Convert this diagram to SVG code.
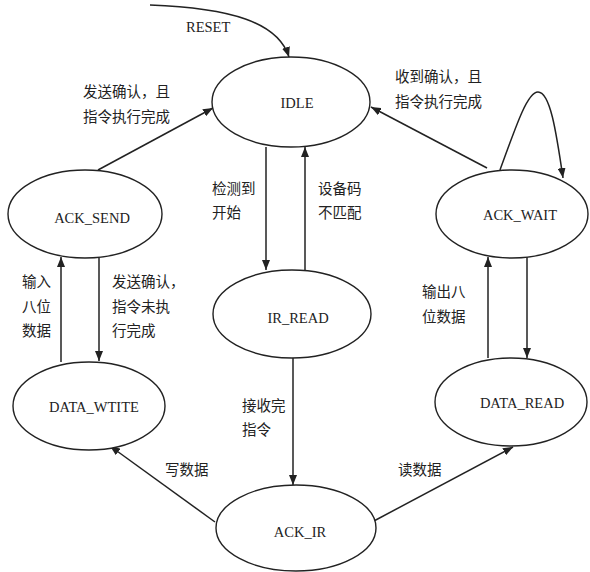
<svg xmlns="http://www.w3.org/2000/svg" width="590" height="572" viewBox="0 0 590 572">
<style>
.node ellipse{fill:#fff;stroke:#222;stroke-width:1.4}
.node text{font-family:"Liberation Serif","DejaVu Serif",serif;font-size:14.5px;fill:#222;text-anchor:middle}
.edges path{fill:none;stroke:#222;stroke-width:1.5}
.lbl{font-family:"Noto Sans CJK SC","Noto Sans",sans-serif;font-size:14.5px;fill:#222}
.rs{font-family:"Liberation Serif",serif;font-size:14.5px;fill:#222}
</style>
<defs>
<marker id="ah" markerUnits="userSpaceOnUse" markerWidth="11" markerHeight="8" refX="10" refY="4" orient="auto">
<path d="M0,0 L10,4 L0,8 z" fill="#222"/>
</marker>
</defs>
<rect width="590" height="572" fill="#fff"/>
<g class="edges">
<path d="M150,5 C230,8 278,22 289,57" marker-end="url(#ah)"/>
<path d="M98,170 L213,108" marker-end="url(#ah)"/>
<path d="M487,168 L371,107" marker-end="url(#ah)"/>
<path d="M500,170 C518,120 528,92 538,92 C550,92 556,130 563,178" marker-end="url(#ah)"/>
<path d="M266,147 L266,270" marker-end="url(#ah)"/>
<path d="M305,270 L305,147" marker-end="url(#ah)"/>
<path d="M99,258 L99,361" marker-end="url(#ah)"/>
<path d="M61,362 L61,257" marker-end="url(#ah)"/>
<path d="M527,257 L527,358" marker-end="url(#ah)"/>
<path d="M488,358 L488,257" marker-end="url(#ah)"/>
<path d="M293,358 L293,485" marker-end="url(#ah)"/>
<path d="M215,522 L110,446" marker-end="url(#ah)"/>
<path d="M372,522 L513,447" marker-end="url(#ah)"/>
</g>
<g id="IDLE" class="node"><ellipse cx="291" cy="102" rx="79" ry="45"/><text x="297" y="108">IDLE</text></g>
<g id="ACK_SEND" class="node"><ellipse cx="85" cy="214" rx="77" ry="44"/><text x="92" y="223">ACK_SEND</text></g>
<g id="ACK_WAIT" class="node"><ellipse cx="512" cy="214" rx="76" ry="44"/><text x="520" y="220">ACK_WAIT</text></g>
<g id="IR_READ" class="node"><ellipse cx="292" cy="314" rx="79" ry="44"/><text x="298" y="323">IR_READ</text></g>
<g id="DATA_WTITE" class="node"><ellipse cx="89" cy="406" rx="76" ry="44"/><text x="94" y="412">DATA_WTITE</text></g>
<g id="DATA_READ" class="node"><ellipse cx="511" cy="402" rx="76" ry="44"/><text x="522" y="408">DATA_READ</text></g>
<g id="ACK_IR" class="node"><ellipse cx="296" cy="528" rx="80" ry="43"/><text x="300" y="537">ACK_IR</text></g>
<g id="labels">
<text class="rs" x="186" y="32">RESET</text>
<text class="lbl" x="83" y="97">发送确认，且</text>
<text class="lbl" x="83" y="122">指令执行完成</text>
<text class="lbl" x="395" y="82">收到确认，且</text>
<text class="lbl" x="395" y="107">指令执行完成</text>
<text class="lbl" x="212" y="194">检测到</text>
<text class="lbl" x="212" y="218">开始</text>
<text class="lbl" x="318" y="194">设备码</text>
<text class="lbl" x="318" y="218">不匹配</text>
<text class="lbl" x="22" y="287">输入</text>
<text class="lbl" x="22" y="312">八位</text>
<text class="lbl" x="22" y="336">数据</text>
<text class="lbl" x="112" y="287">发送确认，</text>
<text class="lbl" x="112" y="312">指令未执</text>
<text class="lbl" x="112" y="336">行完成</text>
<text class="lbl" x="422" y="297">输出八</text>
<text class="lbl" x="422" y="322">位数据</text>
<text class="lbl" x="242" y="411">接收完</text>
<text class="lbl" x="242" y="435">指令</text>
<text class="lbl" x="165" y="475">写数据</text>
<text class="lbl" x="398" y="475">读数据</text>
</g>
</svg>
